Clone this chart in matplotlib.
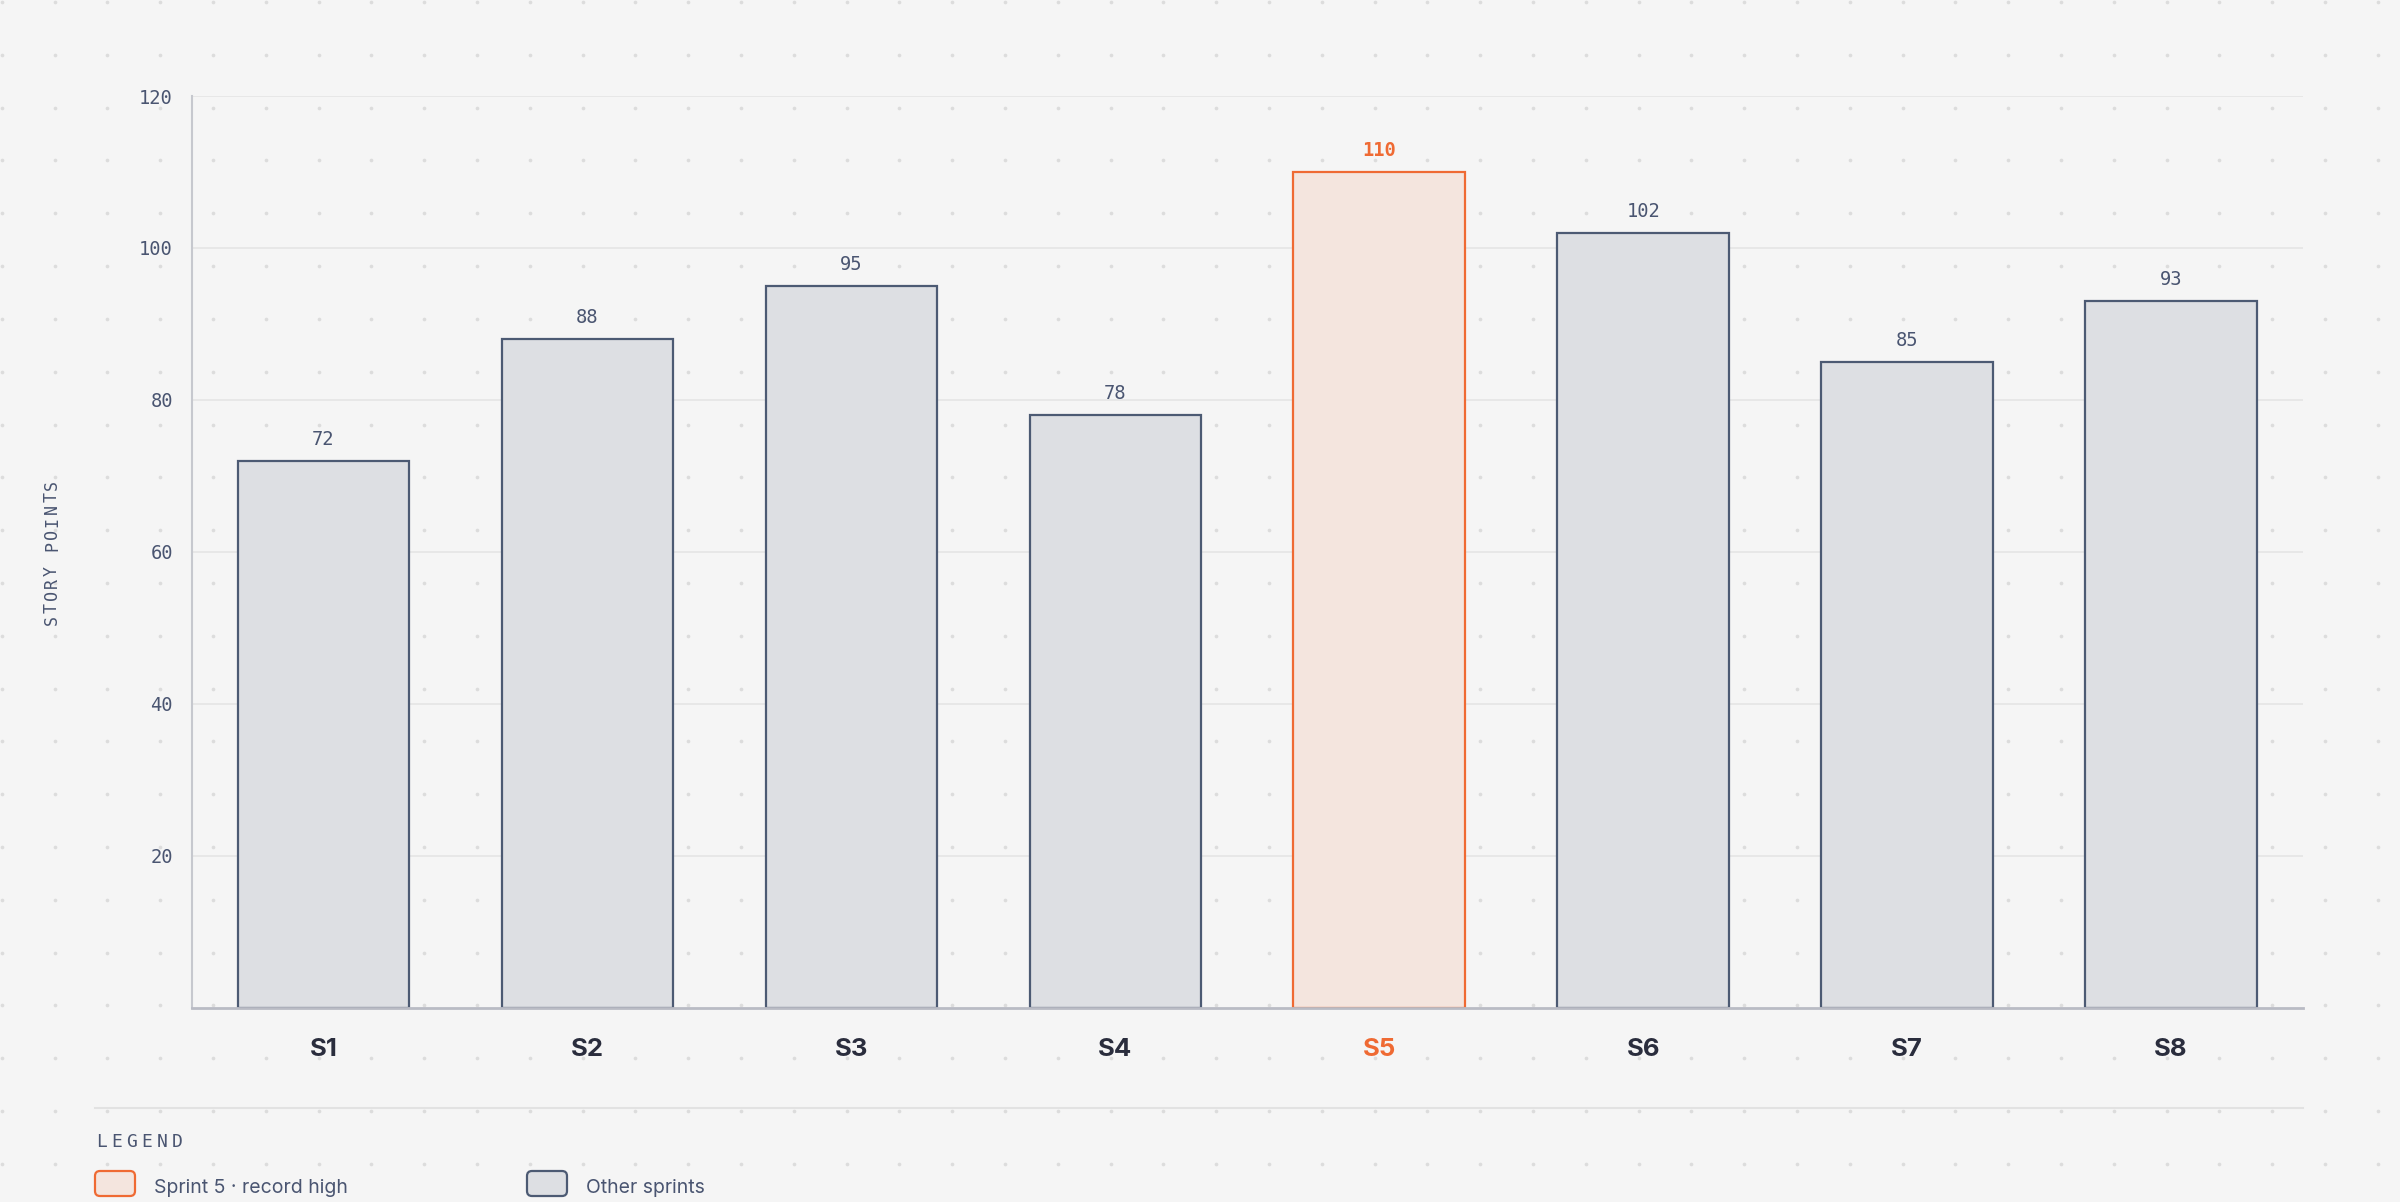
import matplotlib
matplotlib.use("Agg")
import matplotlib.pyplot as plt
import numpy as np
from matplotlib.patches import FancyBboxPatch

# data
sprints = ["S1", "S2", "S3", "S4", "S5", "S6", "S7", "S8"]
points = [72, 88, 95, 78, 110, 102, 85, 93]
highlight = "S5"
y_ticks = [20, 40, 60, 80, 100, 120]
legend_labels = ["Sprint 5 \u00b7 record high", "Other sprints"]

# colours
BG = "#f5f5f5"
DOT = "#dcdcdc"
SLATE = "#4a5571"
DARK = "#2a2d3d"
GREY_FILL = "#dddfe3"
GREY_EDGE = "#4c5a73"
ORANGE = "#ef6a33"
ORANGE_FILL = "#f4e5de"
MONO = "DejaVu Sans Mono"
SANS = ["Inter", "DejaVu Sans"]

W, H = 2400, 1202
fig = plt.figure(figsize=(W / 100, H / 100), dpi=100, facecolor=BG)

# background layer in pixel units (y downwards)
bg = fig.add_axes([0, 0, 1, 1], zorder=0)
bg.set_xlim(0, W)
bg.set_ylim(H, 0)
bg.axis("off")
gx, gy = np.meshgrid(np.arange(1.8, W, 52.8), np.arange(2.1, H, 52.8))
bg.scatter(gx.ravel(), gy.ravel(), s=7, color=DOT, linewidths=0)

# main chart
ax = fig.add_axes([191.5 / W, 1 - 1007.5 / H, (2303 - 191.5) / W, (1007.5 - 96) / H], zorder=1)
ax.set_facecolor("none")
x = np.arange(len(sprints))
fills = [ORANGE_FILL if s == highlight else GREY_FILL for s in sprints]
edges = [ORANGE if s == highlight else GREY_EDGE for s in sprints]
ax.bar(x, points, width=0.65, color=fills, edgecolor=edges, linewidth=1.6, zorder=3)

for xi, v, s in zip(x, points, sprints):
    hot = s == highlight
    ax.annotate(str(v), (xi, v), xytext=(0, 11.5), textcoords="offset points",
                ha="center", va="baseline", fontsize=13.5, family=MONO,
                color=ORANGE if hot else SLATE, fontweight="bold" if hot else "normal")

ax.set_xlim(-0.5, len(sprints) - 0.5)
ax.set_ylim(0, 120)
ax.set_yticks(y_ticks)
ax.set_yticklabels([str(t) for t in y_ticks], family=MONO, fontsize=13.5, color=SLATE)
ax.set_xticks(x)
ax.set_xticklabels(sprints, family=SANS, fontsize=18.5, fontweight="bold", color=DARK)
for lab in ax.get_xticklabels():
    lab.set_va("baseline")
    if lab.get_text() == highlight:
        lab.set_color(ORANGE)
ax.tick_params(axis="x", length=0, pad=35)
ax.tick_params(axis="y", length=0, pad=13.5)
ax.grid(axis="y", color="#e3e3e3", linewidth=1.1, zorder=0)
ax.set_axisbelow(True)
for side in ["top", "right"]:
    ax.spines[side].set_visible(False)
ax.spines["left"].set_color("#c6c8ce")
ax.spines["left"].set_linewidth(1.5)
ax.spines["bottom"].set_color("#b9bbc4")
ax.spines["bottom"].set_linewidth(2)
ax.spines["bottom"].set_zorder(4)

# letter-spaced axis title, one glyph at a time
for i, ch in enumerate("STORY POINTS"):
    bg.text(52, 620 - i * 12.3, ch, rotation=90, ha="center", va="center",
            family=MONO, fontsize=12, color=SLATE)

# legend area
bg.plot([95, 2303], [1108, 1108], color="#e2e2e2", linewidth=1.5)
for i, ch in enumerate("LEGEND"):
    bg.text(101.5 + i * 15.2, 1147, ch, ha="center", va="baseline",
            family=MONO, fontsize=13, color=SLATE)
legend_x = [95, 527]
legend_fill = [ORANGE_FILL, GREY_FILL]
legend_edge = [ORANGE, GREY_EDGE]
for lx, lab, fc, ec in zip(legend_x, legend_labels, legend_fill, legend_edge):
    bg.add_patch(FancyBboxPatch((lx, 1171), 40, 25, boxstyle="round,pad=0,rounding_size=5",
                                facecolor=fc, edgecolor=ec, linewidth=1.6))
    bg.text(lx + 59, 1193, lab, family=SANS, fontsize=14, color=SLATE, va="baseline")

fig.savefig("out.png", dpi=100, facecolor=BG)
